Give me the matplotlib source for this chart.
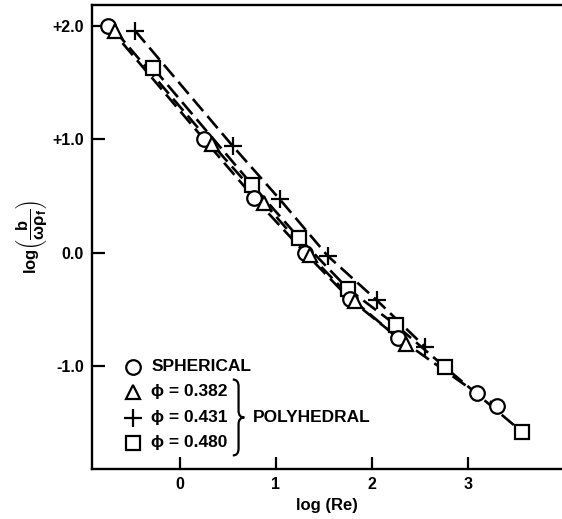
"""Recreate the log(b/(omega rho_f)) vs log(Re) chart."""

import matplotlib
matplotlib.use("Agg")
import matplotlib.pyplot as plt
from matplotlib.path import Path
from matplotlib.patches import PathPatch

plt.rcParams["font.family"] = ["Liberation Sans", "DejaVu Sans"]
plt.rcParams["font.weight"] = "bold"
plt.rcParams["mathtext.fontset"] = "custom"
plt.rcParams["mathtext.rm"] = "Liberation Sans:bold"
plt.rcParams["mathtext.it"] = "Liberation Sans:bold"
plt.rcParams["mathtext.bf"] = "Liberation Sans:bold"

# Spherical particles
sph_x = [-0.75, 0.25, 0.77, 1.30, 1.77, 2.27, 3.09, 3.30]
sph_y = [2.00, 1.00, 0.485, 0.00, -0.41, -0.75, -1.24, -1.35]

# Polyhedral, phi = 0.382
tri_x = [-0.68, 0.33, 0.875, 1.35, 1.82, 2.35]
tri_y = [1.96, 0.96, 0.44, -0.02, -0.43, -0.81]

# Polyhedral, phi = 0.431
plus_x = [-0.47, 0.55, 1.04, 1.54, 2.05, 2.55]
plus_y = [1.96, 0.94, 0.47, -0.03, -0.42, -0.83]

# Polyhedral, phi = 0.480
sq_x = [-0.28, 0.75, 1.24, 1.75, 2.25, 2.76, 3.56]
sq_y = [1.63, 0.60, 0.13, -0.32, -0.64, -1.01, -1.58]

x_ticks = [0, 1, 2, 3]
y_ticks = [2.0, 1.0, 0.0, -1.0]
y_ticklabels = ["+2.0", "+1.0", "0.0", "-1.0"]

fig = plt.figure(figsize=(5.62, 5.19), dpi=100)
ax = fig.add_axes([0.1637, 0.0963, 0.8363, 0.894])

line_kw = dict(color="black", linewidth=1.9, dashes=(6, 2.5), zorder=2)
mk_kw = dict(color="black", markerfacecolor="white", markeredgecolor="black",
             markeredgewidth=1.6, markersize=10.5, linestyle="none", zorder=3)
plus_kw = dict(mk_kw, markersize=13)

ax.plot(sph_x, sph_y, **line_kw)
ax.plot(tri_x, tri_y, **line_kw)
ax.plot(plus_x, plus_y, **line_kw)
ax.plot(sq_x, sq_y, **line_kw)

ax.plot(sq_x, sq_y, marker="s", **mk_kw)
ax.plot(sph_x, sph_y, marker="o", **mk_kw)
ax.plot(tri_x, tri_y, marker="^", **mk_kw)
ax.plot(plus_x, plus_y, marker="+", **plus_kw)

ax.set_xlim(-0.917, 3.98)
ax.set_ylim(-1.91, 2.185)
ax.set_xticks(x_ticks)
ax.set_xticklabels([str(t) for t in x_ticks])
ax.set_yticks(y_ticks)
ax.set_yticklabels(y_ticklabels)
ax.tick_params(direction="in", length=9, width=1.6, labelsize=11.5, pad=6)

for side in ("left", "bottom", "top"):
    ax.spines[side].set_linewidth(1.7)
ax.spines["right"].set_visible(False)

ax.set_xlabel("log (Re)", fontsize=12, fontweight="bold", labelpad=4)
ax.set_ylabel(r"log$\left(\dfrac{b}{\omega\rho_f}\right)$", fontsize=12,
              fontweight="bold", labelpad=2)

# Hand-drawn style legend
leg_mx = -0.49
leg_tx = -0.30
rows = [-1.006, -1.227, -1.456, -1.677]
ax.plot(leg_mx, rows[0], marker="o", **mk_kw)
ax.plot(leg_mx, rows[1], marker="^", **mk_kw)
ax.plot(leg_mx, rows[2], marker="+", **plus_kw)
ax.plot(leg_mx, rows[3], marker="s", **mk_kw)
labels = ["SPHERICAL", "\u03d5 = 0.382", "\u03d5 = 0.431", "\u03d5 = 0.480"]
for ry, lab in zip(rows, labels):
    ax.text(leg_tx, ry, lab, fontsize=12.5, fontweight="bold", va="center", ha="left")

# Curly brace grouping the polyhedral entries
bx0, bw = 0.55, 0.12
btop, bbot = -1.12, -1.79
bmid = (btop + bbot) / 2
r = 0.06
xm = bx0 + bw / 2
verts = [
    (bx0, btop), (xm, btop), (xm, btop - r),
    (xm, bmid + r),
    (xm, bmid), (bx0 + bw, bmid),
    (xm, bmid), (xm, bmid - r),
    (xm, bbot + r),
    (xm, bbot), (bx0, bbot),
]
codes = [Path.MOVETO, Path.CURVE3, Path.CURVE3, Path.LINETO,
         Path.CURVE3, Path.CURVE3, Path.CURVE3, Path.CURVE3,
         Path.LINETO, Path.CURVE3, Path.CURVE3]
ax.add_patch(PathPatch(Path(verts, codes), facecolor="none",
                       edgecolor="black", linewidth=1.6, zorder=3))
ax.text(0.76, rows[2], "POLYHEDRAL", fontsize=12.5, fontweight="bold",
        va="center", ha="left")

fig.savefig("out.png", dpi=100)
